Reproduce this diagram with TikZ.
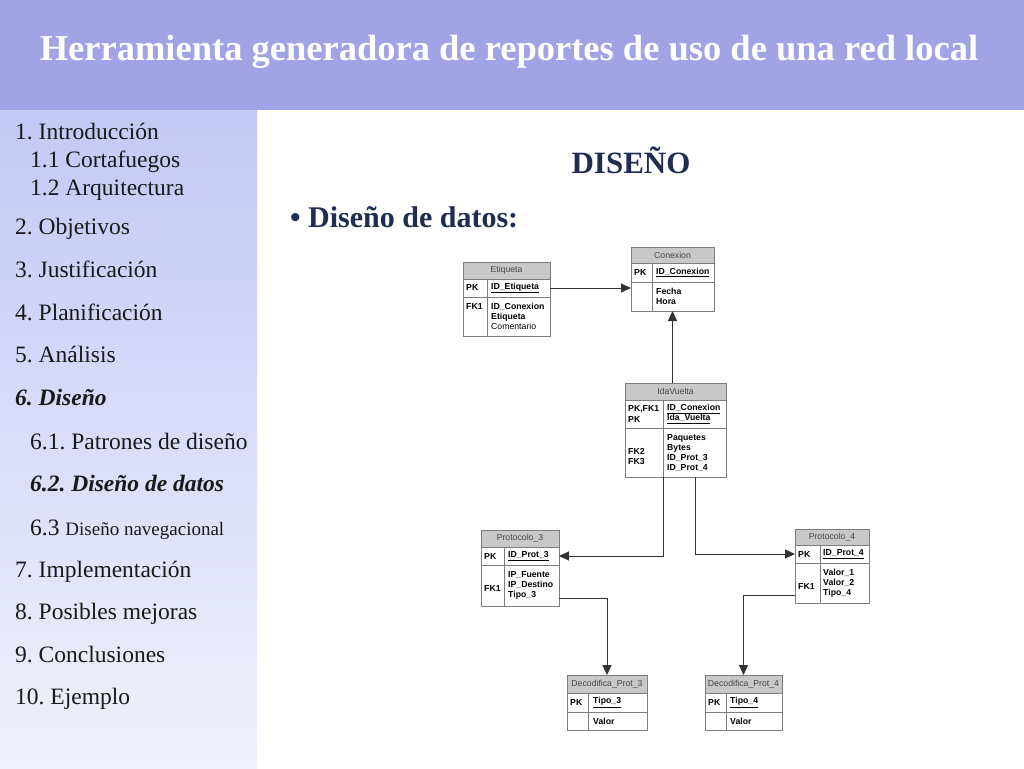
\documentclass[tikz,border=0pt]{standalone}
\usepackage{fontspec}
\setmainfont{Liberation Serif}
\setsansfont{Liberation Sans}
\usetikzlibrary{positioning,calc,arrows.meta}
\definecolor{hdrblue}{RGB}{160,164,228}
\definecolor{sidetop}{RGB}{196,200,245}
\definecolor{sidebot}{RGB}{240,241,252}
\definecolor{navy}{RGB}{31,45,82}
\definecolor{tblgray}{RGB}{125,125,125}
\definecolor{tblfill}{RGB}{200,200,200}
\definecolor{hdrtxt}{RGB}{70,70,70}
\frenchspacing
\begin{document}
\begin{tikzpicture}[x=1pt,y=1pt,yscale=-1,
    tblhead/.style={draw=tblgray, fill=tblfill, line width=1pt, inner sep=0pt, outer sep=0pt, font=\sffamily\fontsize{8.7}{10}\selectfont, text=hdrtxt},
    tblrow/.style={draw=tblgray, fill=white, line width=1pt, inner sep=0pt, outer sep=0pt},
    tblline/.style={draw=tblgray, line width=1pt},
    keytxt/.style={anchor=west, inner sep=0pt, align=left, font=\sffamily\bfseries\fontsize{8.7}{10.5}\selectfont},
    bodytxt/.style={anchor=north west, inner sep=0pt, align=left, font=\sffamily\bfseries\fontsize{8.7}{10}\selectfont},
    fk/.style={draw=black!80, line width=1pt, -{Triangle[length=10pt,width=9pt]}},
    menu/.style={anchor=base west, inner sep=0pt, font=\fontsize{23.5}{25}\selectfont, text=black!90},
    menusel/.style={menu, font=\bfseries\itshape\fontsize{23.5}{25}\selectfont},
  ]
  % page, header and side bar
  \useasboundingbox (0,0) rectangle (1024,768);
  \fill[white] (0,0) rectangle (1024,768);
  \fill[hdrblue] (0,0) rectangle (1024,110);
  \shade[top color=sidetop, bottom color=sidebot] (0,110) rectangle (257,768);
  \node[anchor=base, inner sep=0pt, text=white, font=\bfseries\fontsize{36.5}{40}\selectfont] (title) at (509,60) {Herramienta generadora de reportes de uso de una red local};

  % menu
  \node[menu] (m1) at (15,139) {1. Introducción};
  \node[menu] (m11) at (30,167) {1.1 Cortafuegos};
  \node[menu] (m12) at (30,195) {1.2 Arquitectura};
  \node[menu] (m2) at (15,234) {2. Objetivos};
  \node[menu] (m3) at (15,277) {3. Justificación};
  \node[menu] (m4) at (15,320) {4. Planificación};
  \node[menu] (m5) at (15,362) {5. Análisis};
  \node[menusel] (m6) at (15,405) {6. Diseño};
  \node[menu] (m61) at (30,449) {6.1. Patrones de diseño};
  \node[menusel] (m62) at (30,491) {6.2. Diseño de datos};
  \node[menu] (m63) at (30,535) {6.3 {\fontsize{19}{21}\selectfont Diseño navegacional}};
  \node[menu] (m7) at (15,577) {7. Implementación};
  \node[menu] (m8) at (15,619) {8. Posibles mejoras};
  \node[menu] (m9) at (15,662) {9. Conclusiones};
  \node[menu] (m10) at (15,704) {10. Ejemplo};

  % slide title
  \node[anchor=base, inner sep=0pt, text=navy, font=\bfseries\fontsize{31}{34}\selectfont] (dis) at (631,173) {DISEÑO};
  \node[anchor=base west, inner sep=0pt, text=navy, font=\bfseries\fontsize{30}{32}\selectfont] (datos) at (290,227) {\textbullet\ Diseño de datos:};

  % Etiqueta
  \node[tblhead, minimum width=87pt, minimum height=17pt] (etq-h) at (506.5,270.5) {Etiqueta};
  \node[tblrow, minimum width=87pt, minimum height=18pt, below=0pt of etq-h] (etq-pk) {};
  \node[tblrow, minimum width=87pt, minimum height=39pt, below=0pt of etq-pk] (etq-b) {};
  \draw[tblline] ($(etq-pk.north west)+(24,0)$) -- ($(etq-b.south west)+(24,0)$);
  \node[keytxt] (etq-k1) at ($(etq-pk.west)+(3,0)$) {PK};
  \node[keytxt] (etq-n1) at ($(etq-pk.west)+(28,0)$) {\underline{ID\_Etiqueta}};
  \node[bodytxt] (etq-k2) at ($(etq-b.north west)+(3,6)$) {FK1};
  \node[bodytxt] (etq-n2) at ($(etq-b.north west)+(28,6)$) {ID\_Conexion\\Etiqueta\\{\mdseries Comentario}};

  % Conexion
  \node[tblhead, minimum width=83pt, minimum height=16pt] (con-h) at (672.5,255) {Conexion};
  \node[tblrow, minimum width=83pt, minimum height=19pt, below=0pt of con-h] (con-pk) {};
  \node[tblrow, minimum width=83pt, minimum height=29pt, below=0pt of con-pk] (con-b) {};
  \draw[tblline] ($(con-pk.north west)+(21,0)$) -- ($(con-b.south west)+(21,0)$);
  \node[keytxt] (con-k1) at ($(con-pk.west)+(3,0)$) {PK};
  \node[keytxt] (con-n1) at ($(con-pk.west)+(25,0)$) {\underline{ID\_Conexion}};
  \node[bodytxt] (con-n2) at ($(con-b.north west)+(25,6)$) {Fecha\\Hora};

  % IdaVuelta
  \node[tblhead, minimum width=101pt, minimum height=17pt] (ida-h) at (675.5,391.5) {IdaVuelta};
  \node[tblrow, minimum width=101pt, minimum height=28pt, below=0pt of ida-h] (ida-pk) {};
  \node[tblrow, minimum width=101pt, minimum height=49pt, below=0pt of ida-pk] (ida-b) {};
  \draw[tblline] ($(ida-pk.north west)+(38,0)$) -- ($(ida-b.south west)+(38,0)$);
  \node[keytxt] (ida-k1) at ($(ida-pk.west)+(3,0)$) {PK,FK1\\PK};
  \node[keytxt] (ida-n1) at ($(ida-pk.west)+(42,0)$) {\underline{ID\_Conexion}\\\underline{Ida\_Vuelta}};
  \node[bodytxt] (ida-k2) at ($(ida-b.north west)+(3,6)$) {\mbox{}\\\mbox{}\\FK2\\FK3};
  \node[bodytxt] (ida-n2) at ($(ida-b.north west)+(42,6)$) {Paquetes\\Bytes\\ID\_Prot\_3\\ID\_Prot\_4};

  % Protocolo_3
  \node[tblhead, minimum width=78pt, minimum height=17pt] (p3-h) at (520,538.5) {Protocolo\_3};
  \node[tblrow, minimum width=78pt, minimum height=18pt, below=0pt of p3-h] (p3-pk) {};
  \node[tblrow, minimum width=78pt, minimum height=41pt, below=0pt of p3-pk] (p3-b) {};
  \draw[tblline] ($(p3-pk.north west)+(23.5,0)$) -- ($(p3-b.south west)+(23.5,0)$);
  \node[keytxt] (p3-k1) at ($(p3-pk.west)+(3,0)$) {PK};
  \node[keytxt] (p3-n1) at ($(p3-pk.west)+(27,0)$) {\underline{ID\_Prot\_3}};
  \node[bodytxt] (p3-k2) at ($(p3-b.north west)+(3,6)$) {\mbox{}\\\mbox{}\\FK1};
  \node[bodytxt] (p3-n2) at ($(p3-b.north west)+(27,6)$) {IP\_Fuente\\IP\_Destino\\Tipo\_3};

  % Protocolo_4
  \node[tblhead, minimum width=74pt, minimum height=16pt] (p4-h) at (832,537) {Protocolo\_4};
  \node[tblrow, minimum width=74pt, minimum height=18pt, below=0pt of p4-h] (p4-pk) {};
  \node[tblrow, minimum width=74pt, minimum height=40pt, below=0pt of p4-pk] (p4-b) {};
  \draw[tblline] ($(p4-pk.north west)+(25,0)$) -- ($(p4-b.south west)+(25,0)$);
  \node[keytxt] (p4-k1) at ($(p4-pk.west)+(3,0)$) {PK};
  \node[keytxt] (p4-n1) at ($(p4-pk.west)+(28,0)$) {\underline{ID\_Prot\_4}};
  \node[bodytxt] (p4-k2) at ($(p4-b.north west)+(3,6)$) {\mbox{}\\\mbox{}\\FK1};
  \node[bodytxt] (p4-n2) at ($(p4-b.north west)+(28,6)$) {Valor\_1\\Valor\_2\\Tipo\_4};

  % Decodifica_Prot_3
  \node[tblhead, minimum width=80pt, minimum height=18pt] (d3-h) at (607,684) {Decodifica\_Prot\_3};
  \node[tblrow, minimum width=80pt, minimum height=19pt, below=0pt of d3-h] (d3-pk) {};
  \node[tblrow, minimum width=80pt, minimum height=18pt, below=0pt of d3-pk] (d3-b) {};
  \draw[tblline] ($(d3-pk.north west)+(21.5,0)$) -- ($(d3-b.south west)+(21.5,0)$);
  \node[keytxt] (d3-k1) at ($(d3-pk.west)+(3,0)$) {PK};
  \node[keytxt] (d3-n1) at ($(d3-pk.west)+(26,0)$) {\underline{Tipo\_3}};
  \node[keytxt] (d3-n2) at ($(d3-b.west)+(26,0)$) {Valor};

  % Decodifica_Prot_4
  \node[tblhead, minimum width=77pt, minimum height=18pt] (d4-h) at (743.5,684) {Decodifica\_Prot\_4};
  \node[tblrow, minimum width=77pt, minimum height=19pt, below=0pt of d4-h] (d4-pk) {};
  \node[tblrow, minimum width=77pt, minimum height=18pt, below=0pt of d4-pk] (d4-b) {};
  \draw[tblline] ($(d4-pk.north west)+(21,0)$) -- ($(d4-b.south west)+(21,0)$);
  \node[keytxt] (d4-k1) at ($(d4-pk.west)+(3,0)$) {PK};
  \node[keytxt] (d4-n1) at ($(d4-pk.west)+(25,0)$) {\underline{Tipo\_4}};
  \node[keytxt] (d4-n2) at ($(d4-b.west)+(25,0)$) {Valor};

  % relations
  \draw[fk] (etq-pk.east) -- (etq-pk.east -| con-b.west);
  \draw[fk] (ida-h.north -| con-b.south) -- (con-b.south);
  \draw[fk] ($(ida-b.south west)+(38,0)$) |- (p3-pk.east);
  \draw[fk] ($(ida-b.south west)+(70,0)$) |- (p4-pk.west);
  \draw[fk] ($(p3-b.south east)+(0,-8)$) -| (d3-h.north);
  \draw[fk] ($(p4-b.south west)+(0,-8)$) -| (d4-h.north);
\end{tikzpicture}
\end{document}
